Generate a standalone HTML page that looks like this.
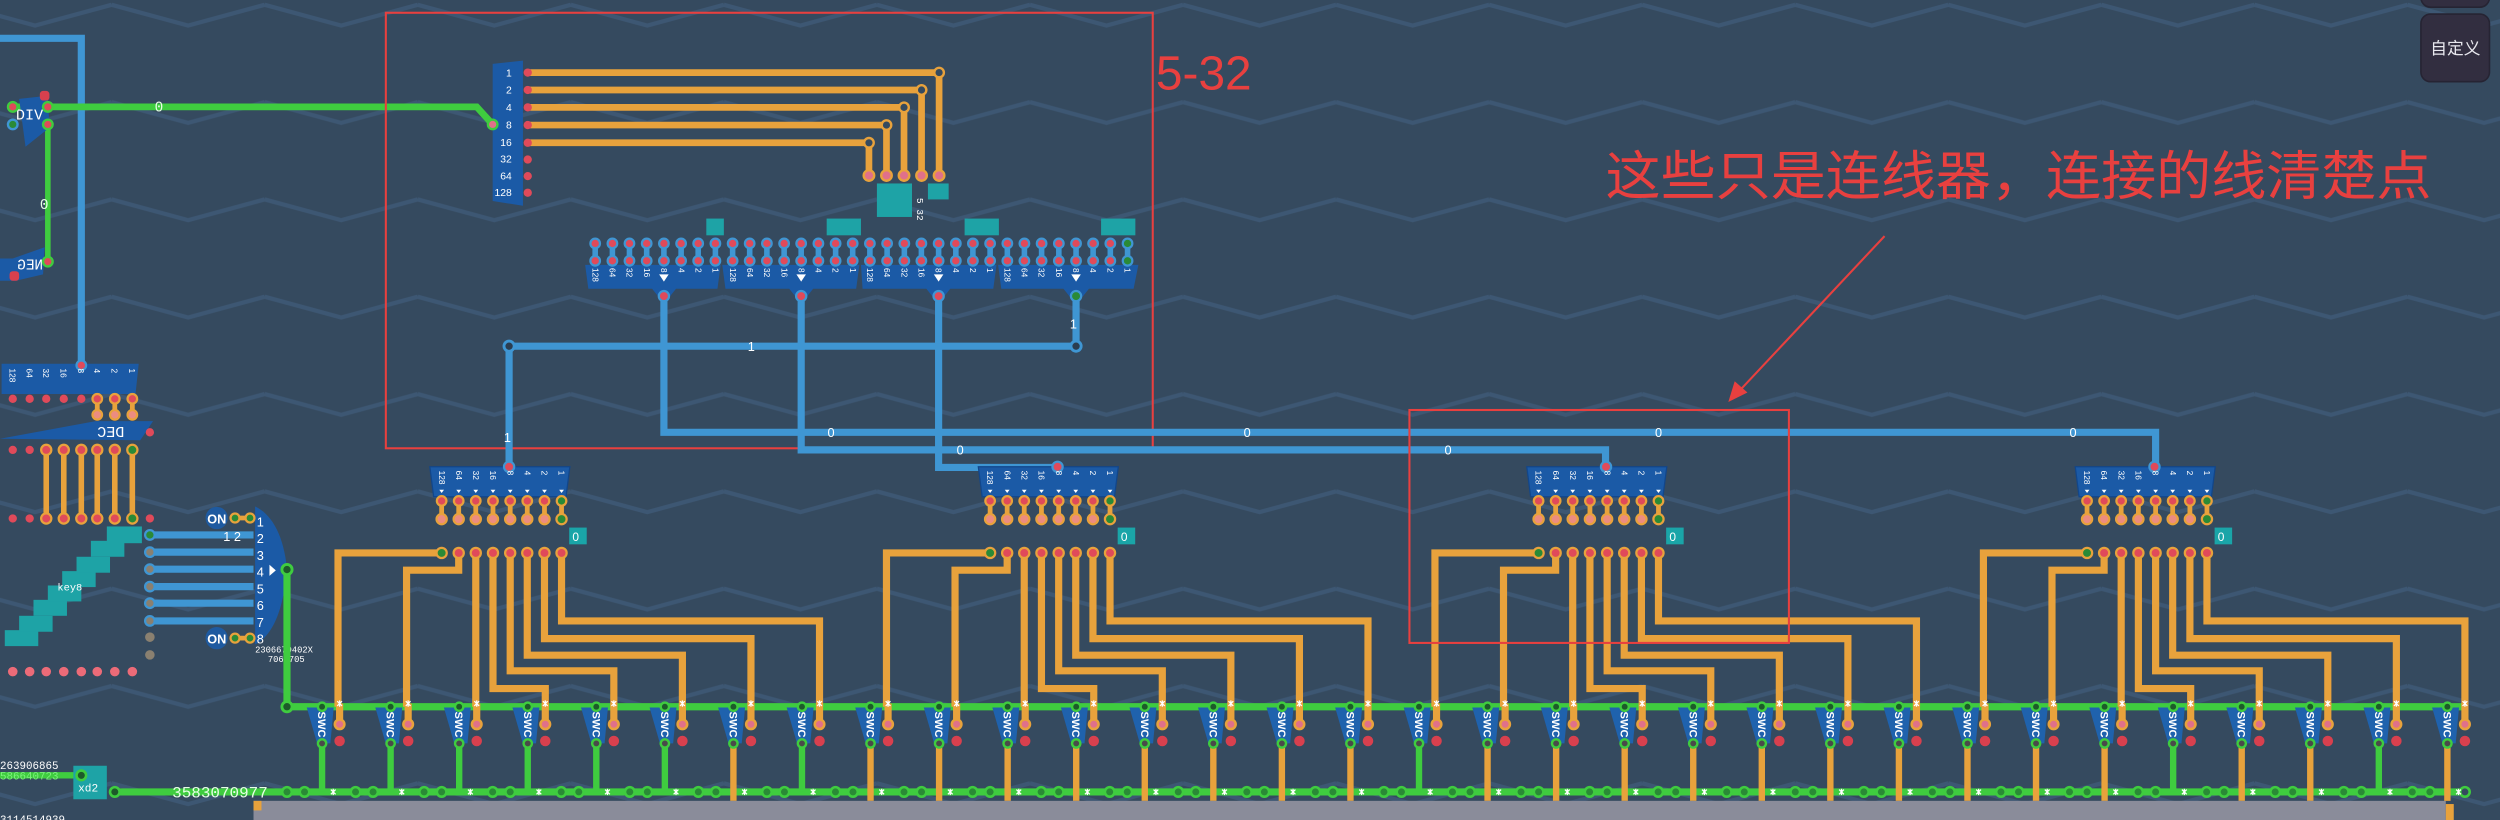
<!DOCTYPE html>
<html><head><meta charset="utf-8"><style>
html,body{margin:0;padding:0;background:#354a5f;}
svg{display:block}
text{font-family:"Liberation Sans","Noto Sans CJK SC",sans-serif;}
.w{fill:#fff}
.m{font-family:"Liberation Mono","DejaVu Sans Mono",monospace;}
.pl{font-size:5.2px;fill:#fff;font-family:"Liberation Mono",monospace}
.sw{font-size:7px;fill:#fff;font-weight:bold}
.bl{font-size:8px;fill:#fff;font-family:"Liberation Mono",monospace}
</style></head><body>
<svg width="2500" height="820" viewBox="0 0 1568 514" preserveAspectRatio="none" xmlns="http://www.w3.org/2000/svg">
<defs>
<pattern id="zz" patternUnits="userSpaceOnUse" x="-26" y="0" width="96" height="61">
<polyline points="0,3 48,16 96,3" fill="none" stroke="#3d5773" stroke-width="2.6"/>
</pattern>
<g id="sw">
<path d="M-9.6 443.5 L7.3 443.5 L5.2 466 L-3.1 466 Z" fill="#1f62ad"/>
<line x1="11" y1="441" x2="11" y2="454" stroke="#e8a23c" stroke-width="4.5"/>
<circle cx="11" cy="454" r="3" fill="#e0708a" stroke="#e8a23c" stroke-width="1.6"/>
<circle cx="11" cy="464.5" r="3.3" fill="#d8404e"/>
<circle cx="0" cy="443" r="2.6" fill="#1d5a2a" stroke="#3fcc3f" stroke-width="1.5"/>
<circle cx="0" cy="466" r="2.6" fill="#4a4a4a" stroke="#3fcc3f" stroke-width="1.5"/>
<path d="M9.5 439.5l3 3M12.5 439.5l-3 3M11 439v4" stroke="#fff" stroke-width="0.8"/>
</g>
<g id="bt">
<circle cx="-22" cy="496.4" r="3" fill="#2a8a36" stroke="#3fcc3f" stroke-width="1.6"/>
<circle cx="-11" cy="496.4" r="3" fill="#2a8a36" stroke="#3fcc3f" stroke-width="1.6"/>
<path d="M5.5 494.9l3 3M8.5 494.9l-3 3M7 494.4v4" stroke="#fff" stroke-width="0.8"/>
</g>
<g id="brd">
<!-- wires -->
<g fill="none" stroke="#e8a23c" stroke-width="4.5" stroke-linejoin="miter">
<path d="M277 346.6H212V443"/>
<path d="M287.7 346.6V357.4H255V443"/>
<path d="M298.4 346.6V443"/>
<path d="M309.2 346.6V431.6H342V443"/>
<path d="M320 346.6V420.5H385V443"/>
<path d="M330.7 346.6V410.7H428V443"/>
<path d="M341.5 346.6V400.3H471V443"/>
<path d="M352.2 346.6V389.2H514V443"/>
<path d="M277 314V325M287.7 314V325M298.4 314V325M309.2 314V325M320 314V325M330.7 314V325M341.5 314V325M352.2 314V325" stroke-width="3"/>
</g>
<path d="M269.6 292.6H357.4L355 311.4H272Z" fill="#1b5aa6" stroke="#12468a" stroke-width="0.8"/>
<circle cx="319.3" cy="292.6" r="3.2" fill="#e04a5a" stroke="#3f96d3" stroke-width="1.4"/>
<g fill="#fff">
<path d="M275.5 307h3l-1.5 2zM286.2 307h3l-1.5 2zM296.9 307h3l-1.5 2zM307.7 307h3l-1.5 2zM318.5 307h3l-1.5 2zM329.2 307h3l-1.5 2zM340 307h3l-1.5 2zM350.7 307h3l-1.5 2z"/>
</g>
<g stroke="#e8a23c" stroke-width="1.4">
<circle cx="277" cy="314" r="3" fill="#e04a5a"/><circle cx="287.7" cy="314" r="3" fill="#e04a5a"/><circle cx="298.4" cy="314" r="3" fill="#e04a5a"/><circle cx="309.2" cy="314" r="3" fill="#e04a5a"/><circle cx="320" cy="314" r="3" fill="#e04a5a"/><circle cx="330.7" cy="314" r="3" fill="#e04a5a"/><circle cx="341.5" cy="314" r="3" fill="#e04a5a"/><circle cx="352.2" cy="314" r="3" fill="#2a8a36"/>
<circle cx="277" cy="325.4" r="3.2" fill="#ec8c80"/><circle cx="287.7" cy="325.4" r="3.2" fill="#ec8c80"/><circle cx="298.4" cy="325.4" r="3.2" fill="#ec8c80"/><circle cx="309.2" cy="325.4" r="3.2" fill="#ec8c80"/><circle cx="320" cy="325.4" r="3.2" fill="#ec8c80"/><circle cx="330.7" cy="325.4" r="3.2" fill="#ec8c80"/><circle cx="341.5" cy="325.4" r="3.2" fill="#ec8c80"/><circle cx="352.2" cy="325.4" r="3.2" fill="#2a8a36"/>
<circle cx="277" cy="346.6" r="3.2" fill="#2a8a36"/><circle cx="287.7" cy="346.6" r="3.2" fill="#e04a5a"/><circle cx="298.4" cy="346.6" r="3.2" fill="#e04a5a"/><circle cx="309.2" cy="346.6" r="3.2" fill="#e04a5a"/><circle cx="320" cy="346.6" r="3.2" fill="#e04a5a"/><circle cx="330.7" cy="346.6" r="3.2" fill="#e04a5a"/><circle cx="341.5" cy="346.6" r="3.2" fill="#e04a5a"/><circle cx="352.2" cy="346.6" r="3.2" fill="#e04a5a"/>
</g>
<rect x="357" y="330.7" width="11" height="10.5" fill="#1aa5a8"/>
</g>
</defs>
<rect width="1568" height="514" fill="#354a5f"/>
<rect width="1568" height="514" fill="url(#zz)"/>

<!-- top-right buttons -->
<rect x="1518.4" y="-14" width="43" height="18.5" rx="6" fill="#322e40" stroke="#262433"/>
<rect x="1518.4" y="8.8" width="43" height="42.4" rx="6" fill="#322e40" stroke="#262433"/>
<text x="1540" y="34" font-size="10.5" fill="#e8e8ee" text-anchor="middle" style="font-family:'Noto Sans CJK SC',sans-serif">自定义</text>

<!-- left blue wire -->
<path d="M0 24H51V228" fill="none" stroke="#3f96d3" stroke-width="4.5"/>
<!-- green DIV wire -->
<path d="M10 67H299L309 78" fill="none" stroke="#3fcc3f" stroke-width="4.2"/>
<path d="M30 78V166" fill="none" stroke="#3fcc3f" stroke-width="3.5"/>
<text x="97" y="70" class="m" font-size="9" fill="#e8ffe8">0</text>
<text x="25" y="131" class="m" font-size="9" fill="#e8ffe8">0</text>
<path d="M12 62L30 60L31 80L16 92Z" fill="#1b5aa6"/>
<text x="10" y="75" class="m" font-size="9.5" fill="#fff">DIV</text>
<rect x="25" y="57" width="6" height="6" rx="2" fill="#d8404e"/>
<circle cx="8" cy="67" r="3" fill="#e04a5a" stroke="#3fcc3f" stroke-width="1.5"/>
<circle cx="8" cy="78" r="3" fill="#2a8a36" stroke="#3f96d3" stroke-width="1.5"/>
<circle cx="30" cy="67" r="3" fill="#e04a5a" stroke="#3fcc3f" stroke-width="1.5"/>
<circle cx="30" cy="78" r="3" fill="#e04a5a" stroke="#3fcc3f" stroke-width="1.5"/>
<path d="M0 162H8L28 155L27 172L10 176H0Z" fill="#1b5aa6"/>
<text transform="translate(27,169) scale(-1,1)" class="m" font-size="9" fill="#fff">NEG</text>
<circle cx="30" cy="164" r="3" fill="#e04a5a" stroke="#3fcc3f" stroke-width="1.5"/>
<rect x="6" y="170" width="6" height="6" rx="2" fill="#d8404e"/>

<!-- left board -->
<path d="M1 228H87L85 247H1Z" fill="#1b5aa6"/>
<circle cx="51" cy="229" r="3" fill="#e04a5a" stroke="#3f96d3" stroke-width="1.4"/>
<g class="pl">
<text transform="translate(6,231) rotate(90)">128</text><text transform="translate(16.6,231) rotate(90)">64</text><text transform="translate(27,231) rotate(90)">32</text><text transform="translate(38,231) rotate(90)">16</text><text transform="translate(49,231) rotate(90)">8</text><text transform="translate(59,231) rotate(90)">4</text><text transform="translate(70,231) rotate(90)">2</text><text transform="translate(81,231) rotate(90)">1</text>
</g>
<g fill="#e04a5a"><circle cx="8" cy="250" r="2.6"/><circle cx="18.6" cy="250" r="2.6"/><circle cx="29" cy="250" r="2.6"/><circle cx="40" cy="250" r="2.6"/><circle cx="51" cy="250" r="2.6"/></g>
<path d="M61 250V260M72 250V260M83 250V260" stroke="#e8a23c" stroke-width="3"/>
<g stroke="#e8a23c" stroke-width="1.4"><circle cx="61" cy="250" r="3" fill="#e04a5a"/><circle cx="72" cy="250" r="3" fill="#e04a5a"/><circle cx="83" cy="250" r="3" fill="#e04a5a"/><circle cx="61" cy="260" r="3" fill="#ec8c80"/><circle cx="72" cy="260" r="3" fill="#ec8c80"/><circle cx="83" cy="260" r="3" fill="#ec8c80"/></g>
<path d="M0 275L60 264H96L88 276Z" fill="#1b5aa6"/>
<text transform="translate(78,274) scale(-1,1)" class="m" font-size="9.5" fill="#fff">DEC</text>
<circle cx="94" cy="271" r="2.6" fill="#e04a5a"/>
<path d="M29 282V325M40 282V325M51 282V325M61 282V325M72 282V325M83 282V325" stroke="#e8a23c" stroke-width="3.5"/>
<g fill="#e04a5a"><circle cx="8" cy="282" r="2.6"/><circle cx="18.6" cy="282" r="2.6"/><circle cx="8" cy="325" r="2.6"/><circle cx="18.6" cy="325" r="2.6"/><circle cx="94" cy="325" r="2.6"/></g>
<g stroke="#e8a23c" stroke-width="1.4"><circle cx="29" cy="282" r="3.2" fill="#e04a5a"/><circle cx="40" cy="282" r="3.2" fill="#e04a5a"/><circle cx="51" cy="282" r="3.2" fill="#e04a5a"/><circle cx="61" cy="282" r="3.2" fill="#e04a5a"/><circle cx="72" cy="282" r="3.2" fill="#e04a5a"/><circle cx="83" cy="282" r="3.2" fill="#2a8a36"/><circle cx="29" cy="325" r="3.2" fill="#e04a5a"/><circle cx="40" cy="325" r="3.2" fill="#e04a5a"/><circle cx="51" cy="325" r="3.2" fill="#e04a5a"/><circle cx="61" cy="325" r="3.2" fill="#e04a5a"/><circle cx="72" cy="325" r="3.2" fill="#e04a5a"/><circle cx="83" cy="325" r="3.2" fill="#2a8a36"/></g>
<!-- key8 staircase -->
<g fill="#1ea3a6">
<rect x="3" y="395" width="21" height="10"/><rect x="12" y="386" width="21" height="10"/><rect x="21" y="376" width="21" height="10"/><rect x="30" y="367" width="21" height="10"/><rect x="39" y="358" width="21" height="10"/><rect x="48" y="349" width="21" height="10"/><rect x="57" y="339" width="21" height="10"/><rect x="67" y="330" width="22" height="10.5"/>
</g>
<text x="36" y="370" class="m" font-size="6.5" fill="#fff">key8</text>
<g fill="#ec6b78"><circle cx="8" cy="421" r="3"/><circle cx="18.6" cy="421" r="3"/><circle cx="29" cy="421" r="3"/><circle cx="40" cy="421" r="3"/><circle cx="51" cy="421" r="3"/><circle cx="61" cy="421" r="3"/><circle cx="72" cy="421" r="3"/><circle cx="83" cy="421" r="3"/></g>
<!-- blue bars -->
<path d="M94 335.3H159M94 346.1H159M94 356.8H159M94 367.7H159M94 378.1H159M94 389.2H159" stroke="#3f96d3" stroke-width="4.5"/>
<g stroke="#3f96d3" stroke-width="1.4"><circle cx="94" cy="335.3" r="3" fill="#2a8a36"/><circle cx="94" cy="346.1" r="3" fill="#8a8070"/><circle cx="94" cy="356.8" r="3" fill="#8a8070"/><circle cx="94" cy="367.7" r="3" fill="#8a8070"/><circle cx="94" cy="378.1" r="3" fill="#8a8070"/><circle cx="94" cy="389.2" r="3" fill="#8a8070"/></g>
<circle cx="94" cy="399.4" r="3" fill="#8a8070"/><circle cx="94" cy="410.5" r="3" fill="#8a8070"/>
<path d="M160 317.5C170 322 178 335 180 357C178 380 172 398 160 404Z" fill="#1b5aa6"/>
<circle cx="135.9" cy="324.7" r="7" fill="#1e5aa0"/><circle cx="135.9" cy="400" r="7" fill="#1e5aa0"/>
<text x="130" y="328" font-size="8" font-weight="bold" fill="#fff">ON</text>
<text x="130" y="403.5" font-size="8" font-weight="bold" fill="#fff">ON</text>
<path d="M147 324.7H157M147 400H157" stroke="#e8a23c" stroke-width="3"/>
<g stroke="#e8a23c" stroke-width="1.4" fill="#2a8a36"><circle cx="147.4" cy="324.7" r="2.8"/><circle cx="156.8" cy="324.7" r="2.8"/><circle cx="147.4" cy="400" r="2.8"/><circle cx="156.8" cy="400" r="2.8"/></g>
<text x="140" y="339" font-size="8" fill="#fff">1 2</text>
<g font-size="8" fill="#fff" class="m"><text x="161" y="330">1</text><text x="161" y="340.5">2</text><text x="161" y="351">3</text><text x="161" y="361.5">4</text><text x="161" y="372">5</text><text x="161" y="382.5">6</text><text x="161" y="393">7</text><text x="161" y="403.5">8</text></g>
<path d="M169 354v7l4-3.5z" fill="#fff"/>
<text x="160" y="409" class="m" font-size="5.5" fill="#fff">2306679402X</text>
<text x="168" y="415" class="m" font-size="5.5" fill="#fff">7060705</text>
<path d="M180 357V443H1546" fill="none" stroke="#3fcc3f" stroke-width="4.5"/>
<circle cx="180" cy="357" r="3.2" fill="#1d5a2a" stroke="#3fcc3f" stroke-width="1.8"/>
<circle cx="180" cy="443" r="3.2" fill="#1d5a2a" stroke="#3fcc3f" stroke-width="1.8"/>

<!-- 5-32 region -->
<rect x="242" y="8" width="481" height="273" fill="none" stroke="#e8403f" stroke-width="1.3"/>
<text x="725" y="56" font-size="30" fill="#e8403f">5-32</text>
<path d="M309 40L328 38V129L309 126Z" fill="#1b5aa6"/>
<g font-size="6.5" fill="#fff" text-anchor="end" class="m"><text x="321" y="48">1</text><text x="321" y="58.5">2</text><text x="321" y="69.5">4</text><text x="321" y="80.5">8</text><text x="321" y="91.5">16</text><text x="321" y="102">32</text><text x="321" y="112.5">64</text><text x="321" y="123">128</text></g>
<g fill="none" stroke="#e8a23c" stroke-width="4.2">
<path d="M331 45.5H589V110"/><path d="M331 56.4H578V110"/><path d="M331 67.3H567V110"/><path d="M331 78.4H556V110"/><path d="M331 89.5H545V110"/>
</g>
<g fill="#e04a5a"><circle cx="331" cy="45.5" r="2.6"/><circle cx="331" cy="56.4" r="2.6"/><circle cx="331" cy="67.3" r="2.6"/><circle cx="331" cy="78.4" r="2.6"/><circle cx="331" cy="89.5" r="2.6"/><circle cx="331" cy="100" r="2.6"/><circle cx="331" cy="110.4" r="2.6"/><circle cx="331" cy="120.8" r="2.6"/></g>
<g stroke="#e8a23c" stroke-width="1.5"><circle cx="589" cy="45.5" r="3" fill="#354a5f"/><circle cx="578" cy="56.4" r="3" fill="#354a5f"/><circle cx="567" cy="67.3" r="3" fill="#354a5f"/><circle cx="556" cy="78.4" r="3" fill="#354a5f"/><circle cx="545" cy="89.5" r="3" fill="#354a5f"/>
<circle cx="589" cy="110" r="3.3" fill="#e0708a"/><circle cx="578" cy="110" r="3.3" fill="#e0708a"/><circle cx="567" cy="110" r="3.3" fill="#e0708a"/><circle cx="556" cy="110" r="3.3" fill="#e0708a"/><circle cx="545" cy="110" r="3.3" fill="#e0708a"/></g>
<circle cx="309" cy="78" r="3" fill="#e0708a" stroke="#3fcc3f" stroke-width="1.5"/>
<g fill="#1ea3a6"><rect x="550" y="115" width="22" height="21"/><rect x="582" y="115" width="13" height="10"/><rect x="443" y="137" width="11" height="10.5"/><rect x="518.5" y="137" width="21.5" height="10.5"/><rect x="605" y="137" width="21.5" height="10.5"/><rect x="690.6" y="137" width="21.5" height="10.5"/></g>
<text transform="translate(575,124) rotate(90)" font-size="6" fill="#fff" class="m">5 32</text>

<!-- big bus -->
<path d="M416.4 185V271H1352V291M502.5 185V282H1007V291M588.7 185V293H663.3V291M674.9 185V217H319.3V291" fill="none" stroke="#3f96d3" stroke-width="4.5"/>
<g fill="#1b5aa6">
<path d="M367 166H452L450 181H424L420 186H413L409 181H369Z"/>
<path d="M453 166H539L537 181H510L506 186H499L495 181H455Z"/>
<path d="M540 166H625L623 181H596L592 186H585L581 181H541Z"/>
<path d="M626 166H714L711 181H683L679 186H671L667 181H628Z"/>
</g>
<g stroke="#3f96d3" stroke-width="3.5">
<path d="M373.3 152.6V163.5M384.1 152.6V163.5M394.8 152.6V163.5M405.6 152.6V163.5M416.4 152.6V163.5M427.2 152.6V163.5M437.9 152.6V163.5M448.7 152.6V163.5M459.5 152.6V163.5M470.2 152.6V163.5M481 152.6V163.5M491.8 152.6V163.5M502.5 152.6V163.5M513.3 152.6V163.5M524.1 152.6V163.5M534.8 152.6V163.5M545.6 152.6V163.5M556.4 152.6V163.5M567.2 152.6V163.5M577.9 152.6V163.5M588.7 152.6V163.5M599.5 152.6V163.5M610.2 152.6V163.5M621 152.6V163.5M631.8 152.6V163.5M642.5 152.6V163.5M653.3 152.6V163.5M664.1 152.6V163.5M674.9 152.6V163.5M685.6 152.6V163.5M696.4 152.6V163.5M707.2 152.6V163.5"/>
</g>
<g stroke="#3f96d3" stroke-width="1.4" fill="#e04a5a">
<circle cx="373.3" cy="152.6" r="3"/><circle cx="384.1" cy="152.6" r="3"/><circle cx="394.8" cy="152.6" r="3"/><circle cx="405.6" cy="152.6" r="3"/><circle cx="416.4" cy="152.6" r="3"/><circle cx="427.2" cy="152.6" r="3"/><circle cx="437.9" cy="152.6" r="3"/><circle cx="448.7" cy="152.6" r="3"/><circle cx="459.5" cy="152.6" r="3"/><circle cx="470.2" cy="152.6" r="3"/><circle cx="481" cy="152.6" r="3"/><circle cx="491.8" cy="152.6" r="3"/><circle cx="502.5" cy="152.6" r="3"/><circle cx="513.3" cy="152.6" r="3"/><circle cx="524.1" cy="152.6" r="3"/><circle cx="534.8" cy="152.6" r="3"/><circle cx="545.6" cy="152.6" r="3"/><circle cx="556.4" cy="152.6" r="3"/><circle cx="567.2" cy="152.6" r="3"/><circle cx="577.9" cy="152.6" r="3"/><circle cx="588.7" cy="152.6" r="3"/><circle cx="599.5" cy="152.6" r="3"/><circle cx="610.2" cy="152.6" r="3"/><circle cx="621" cy="152.6" r="3"/><circle cx="631.8" cy="152.6" r="3"/><circle cx="642.5" cy="152.6" r="3"/><circle cx="653.3" cy="152.6" r="3"/><circle cx="664.1" cy="152.6" r="3"/><circle cx="674.9" cy="152.6" r="3"/><circle cx="685.6" cy="152.6" r="3"/><circle cx="696.4" cy="152.6" r="3"/><circle cx="707.2" cy="152.6" r="3" fill="#2a8a36"/>
<circle cx="373.3" cy="163.5" r="3"/><circle cx="384.1" cy="163.5" r="3"/><circle cx="394.8" cy="163.5" r="3"/><circle cx="405.6" cy="163.5" r="3"/><circle cx="416.4" cy="163.5" r="3"/><circle cx="427.2" cy="163.5" r="3"/><circle cx="437.9" cy="163.5" r="3"/><circle cx="448.7" cy="163.5" r="3"/><circle cx="459.5" cy="163.5" r="3"/><circle cx="470.2" cy="163.5" r="3"/><circle cx="481" cy="163.5" r="3"/><circle cx="491.8" cy="163.5" r="3"/><circle cx="502.5" cy="163.5" r="3"/><circle cx="513.3" cy="163.5" r="3"/><circle cx="524.1" cy="163.5" r="3"/><circle cx="534.8" cy="163.5" r="3"/><circle cx="545.6" cy="163.5" r="3"/><circle cx="556.4" cy="163.5" r="3"/><circle cx="567.2" cy="163.5" r="3"/><circle cx="577.9" cy="163.5" r="3"/><circle cx="588.7" cy="163.5" r="3"/><circle cx="599.5" cy="163.5" r="3"/><circle cx="610.2" cy="163.5" r="3"/><circle cx="621" cy="163.5" r="3"/><circle cx="631.8" cy="163.5" r="3"/><circle cx="642.5" cy="163.5" r="3"/><circle cx="653.3" cy="163.5" r="3"/><circle cx="664.1" cy="163.5" r="3"/><circle cx="674.9" cy="163.5" r="3"/><circle cx="685.6" cy="163.5" r="3"/><circle cx="696.4" cy="163.5" r="3"/><circle cx="707.2" cy="163.5" r="3" fill="#2a8a36"/>
<circle cx="416.4" cy="185.6" r="3.2"/><circle cx="502.5" cy="185.6" r="3.2"/><circle cx="588.7" cy="185.6" r="3.2"/><circle cx="674.9" cy="185.6" r="3.2" fill="#2a8a36"/>
</g>
<g class="pl">
<text transform="translate(371.5,168) rotate(90)">128</text><text transform="translate(382.3,168) rotate(90)">64</text><text transform="translate(393,168) rotate(90)">32</text><text transform="translate(403.8,168) rotate(90)">16</text><text transform="translate(425.4,168) rotate(90)">4</text><text transform="translate(436.1,168) rotate(90)">2</text><text transform="translate(446.9,168) rotate(90)">1</text>
<text transform="translate(457.7,168) rotate(90)">128</text><text transform="translate(468.4,168) rotate(90)">64</text><text transform="translate(479.2,168) rotate(90)">32</text><text transform="translate(490,168) rotate(90)">16</text><text transform="translate(511.5,168) rotate(90)">4</text><text transform="translate(522.3,168) rotate(90)">2</text><text transform="translate(533,168) rotate(90)">1</text>
<text transform="translate(543.8,168) rotate(90)">128</text><text transform="translate(554.6,168) rotate(90)">64</text><text transform="translate(565.4,168) rotate(90)">32</text><text transform="translate(576.1,168) rotate(90)">16</text><text transform="translate(597.7,168) rotate(90)">4</text><text transform="translate(608.4,168) rotate(90)">2</text><text transform="translate(619.2,168) rotate(90)">1</text>
<text transform="translate(630,168) rotate(90)">128</text><text transform="translate(640.7,168) rotate(90)">64</text><text transform="translate(651.5,168) rotate(90)">32</text><text transform="translate(662.3,168) rotate(90)">16</text><text transform="translate(683.8,168) rotate(90)">4</text><text transform="translate(694.6,168) rotate(90)">2</text><text transform="translate(705.4,168) rotate(90)">1</text>
<text transform="translate(414.6,168) rotate(90)">8</text><text transform="translate(500.7,168) rotate(90)">8</text><text transform="translate(586.9,168) rotate(90)">8</text><text transform="translate(673.1,168) rotate(90)">8</text>
</g>
<g fill="#fff"><path d="M413.4 172h6l-3 4.5zM499.5 172h6l-3 4.5zM585.7 172h6l-3 4.5zM671.9 172h6l-3 4.5z"/></g>
<g stroke="#3f96d3" stroke-width="1.8" fill="#2b3d50"><circle cx="319.3" cy="217" r="3.2"/><circle cx="674.9" cy="217" r="3.2"/></g>
<g class="bl"><text x="469" y="220">1</text><text x="671" y="206">1</text><text x="316" y="277">1</text><text x="519" y="274">0</text><text x="780" y="274">0</text><text x="1038" y="274">0</text><text x="1298" y="274">0</text><text x="600" y="285">0</text><text x="906" y="285">0</text></g>

<!-- boards -->
<use href="#brd"/><use href="#brd" x="344"/><use href="#brd" x="688"/><use href="#brd" x="1032"/>
<g class="pl">
<text transform="translate(275.2,295) rotate(90)">128</text><text transform="translate(285.9,295) rotate(90)">64</text><text transform="translate(296.6,295) rotate(90)">32</text><text transform="translate(307.4,295) rotate(90)">16</text><text transform="translate(318.2,295) rotate(90)">8</text><text transform="translate(328.9,295) rotate(90)">4</text><text transform="translate(339.7,295) rotate(90)">2</text><text transform="translate(350.4,295) rotate(90)">1</text>
<text transform="translate(619.2,295) rotate(90)">128</text><text transform="translate(629.9,295) rotate(90)">64</text><text transform="translate(640.6,295) rotate(90)">32</text><text transform="translate(651.4,295) rotate(90)">16</text><text transform="translate(662.2,295) rotate(90)">8</text><text transform="translate(672.9,295) rotate(90)">4</text><text transform="translate(683.7,295) rotate(90)">2</text><text transform="translate(694.4,295) rotate(90)">1</text>
<text transform="translate(963.2,295) rotate(90)">128</text><text transform="translate(973.9,295) rotate(90)">64</text><text transform="translate(984.6,295) rotate(90)">32</text><text transform="translate(995.4,295) rotate(90)">16</text><text transform="translate(1006.2,295) rotate(90)">8</text><text transform="translate(1016.9,295) rotate(90)">4</text><text transform="translate(1027.7,295) rotate(90)">2</text><text transform="translate(1038.4,295) rotate(90)">1</text>
<text transform="translate(1307.2,295) rotate(90)">128</text><text transform="translate(1317.9,295) rotate(90)">64</text><text transform="translate(1328.6,295) rotate(90)">32</text><text transform="translate(1339.4,295) rotate(90)">16</text><text transform="translate(1350.2,295) rotate(90)">8</text><text transform="translate(1360.9,295) rotate(90)">4</text><text transform="translate(1371.7,295) rotate(90)">2</text><text transform="translate(1382.4,295) rotate(90)">1</text>
</g>
<g font-size="7.5" fill="#fff" class="m"><text x="359" y="339">0</text><text x="703" y="339">0</text><text x="1047" y="339">0</text><text x="1391" y="339">0</text></g>

<!-- red annotation -->
<rect x="884" y="257" width="238" height="146" fill="none" stroke="#e8403f" stroke-width="1.3"/>
<line x1="1182" y1="148" x2="1090" y2="246" stroke="#e8403f" stroke-width="1.3"/>
<path d="M1084 252L1088 239L1096 246Z" fill="#e8403f"/>
<text x="1007" y="122" font-size="33" fill="#e8403f" textLength="518" lengthAdjust="spacingAndGlyphs" style="font-family:'Noto Sans CJK SC',sans-serif">这些只是连线器，连接的线清楚点</text>

<!-- bottom -->
<path d="M72 496.4H1546" stroke="#3fcc3f" stroke-width="4.5"/>
<path d="M0 486H51" stroke="#3fcc3f" stroke-width="4"/>
<rect x="46" y="480" width="21" height="21" fill="#1ea3a6"/>
<circle cx="51" cy="486" r="3" fill="#1d5a2a" stroke="#3fcc3f" stroke-width="1.6"/>
<circle cx="72" cy="496.4" r="3" fill="#1d5a2a" stroke="#3fcc3f" stroke-width="1.6"/>
<circle cx="1546" cy="496.4" r="3" fill="#354a5f" stroke="#3fcc3f" stroke-width="1.6"/>
<text x="49" y="496" class="m" font-size="7" fill="#fff">xd2</text>
<text x="0" y="482" class="m" font-size="6.8" fill="#fff">263906865</text>
<text x="0" y="488.5" class="m" font-size="6.8" fill="#7cf07c">586640723</text>
<text x="0" y="516" class="m" font-size="6.8" fill="#fff">3114514939</text>
<text x="108" y="500" class="m" font-size="10" fill="#e6ffe6">3583070977</text>
<g stroke-width="4">
<path stroke="#3fcc3f" d="M202 466V496M245 466V496M288 466V496M331 466V496M374 466V496M417 466V496M503 466V496M890 466V496M1363 466V496M1492 466V496"/>
<path stroke="#e8a23c" d="M460 466V502M546 466V502M589 466V502M632 466V502M675 466V502M718 466V502M761 466V502M804 466V502M847 466V502M933 466V502M976 466V502M1019 466V502M1062 466V502M1105 466V502M1148 466V502M1191 466V502M1234 466V502M1277 466V502M1320 466V502M1406 466V502M1449 466V502M1535 466V502"/>
</g>
<g>
<use href="#bt" x="202"/><use href="#bt" x="245"/><use href="#bt" x="288"/><use href="#bt" x="331"/><use href="#bt" x="374"/><use href="#bt" x="417"/><use href="#bt" x="460"/><use href="#bt" x="503"/><use href="#bt" x="546"/><use href="#bt" x="589"/><use href="#bt" x="632"/><use href="#bt" x="675"/><use href="#bt" x="718"/><use href="#bt" x="761"/><use href="#bt" x="804"/><use href="#bt" x="847"/><use href="#bt" x="890"/><use href="#bt" x="933"/><use href="#bt" x="976"/><use href="#bt" x="1019"/><use href="#bt" x="1062"/><use href="#bt" x="1105"/><use href="#bt" x="1148"/><use href="#bt" x="1191"/><use href="#bt" x="1234"/><use href="#bt" x="1277"/><use href="#bt" x="1320"/><use href="#bt" x="1363"/><use href="#bt" x="1406"/><use href="#bt" x="1449"/><use href="#bt" x="1492"/><use href="#bt" x="1535"/>
</g>
<g>
<use href="#sw" x="202"/><use href="#sw" x="245"/><use href="#sw" x="288"/><use href="#sw" x="331"/><use href="#sw" x="374"/><use href="#sw" x="417"/><use href="#sw" x="460"/><use href="#sw" x="503"/><use href="#sw" x="546"/><use href="#sw" x="589"/><use href="#sw" x="632"/><use href="#sw" x="675"/><use href="#sw" x="718"/><use href="#sw" x="761"/><use href="#sw" x="804"/><use href="#sw" x="847"/><use href="#sw" x="890"/><use href="#sw" x="933"/><use href="#sw" x="976"/><use href="#sw" x="1019"/><use href="#sw" x="1062"/><use href="#sw" x="1105"/><use href="#sw" x="1148"/><use href="#sw" x="1191"/><use href="#sw" x="1234"/><use href="#sw" x="1277"/><use href="#sw" x="1320"/><use href="#sw" x="1363"/><use href="#sw" x="1406"/><use href="#sw" x="1449"/><use href="#sw" x="1492"/><use href="#sw" x="1535"/>
</g>
<g class="sw">
<text transform="translate(199.5,446) rotate(90)">SWC</text><text transform="translate(242.5,446) rotate(90)">SWC</text><text transform="translate(285.5,446) rotate(90)">SWC</text><text transform="translate(328.5,446) rotate(90)">SWC</text><text transform="translate(371.5,446) rotate(90)">SWC</text><text transform="translate(414.5,446) rotate(90)">SWC</text><text transform="translate(457.5,446) rotate(90)">SWC</text><text transform="translate(500.5,446) rotate(90)">SWC</text>
<text transform="translate(543.5,446) rotate(90)">SWC</text><text transform="translate(586.5,446) rotate(90)">SWC</text><text transform="translate(629.5,446) rotate(90)">SWC</text><text transform="translate(672.5,446) rotate(90)">SWC</text><text transform="translate(715.5,446) rotate(90)">SWC</text><text transform="translate(758.5,446) rotate(90)">SWC</text><text transform="translate(801.5,446) rotate(90)">SWC</text><text transform="translate(844.5,446) rotate(90)">SWC</text>
<text transform="translate(887.5,446) rotate(90)">SWC</text><text transform="translate(930.5,446) rotate(90)">SWC</text><text transform="translate(973.5,446) rotate(90)">SWC</text><text transform="translate(1016.5,446) rotate(90)">SWC</text><text transform="translate(1059.5,446) rotate(90)">SWC</text><text transform="translate(1102.5,446) rotate(90)">SWC</text><text transform="translate(1145.5,446) rotate(90)">SWC</text><text transform="translate(1188.5,446) rotate(90)">SWC</text>
<text transform="translate(1231.5,446) rotate(90)">SWC</text><text transform="translate(1274.5,446) rotate(90)">SWC</text><text transform="translate(1317.5,446) rotate(90)">SWC</text><text transform="translate(1360.5,446) rotate(90)">SWC</text><text transform="translate(1403.5,446) rotate(90)">SWC</text><text transform="translate(1446.5,446) rotate(90)">SWC</text><text transform="translate(1489.5,446) rotate(90)">SWC</text><text transform="translate(1532.5,446) rotate(90)">SWC</text>
</g>
<rect x="159" y="502" width="1375" height="12" fill="#8a8c9a"/>
<rect x="159" y="502" width="5" height="6" fill="#e8a23c"/>
<rect x="1534" y="504" width="5" height="10" fill="#e8a23c"/>
</svg>
</body></html>
